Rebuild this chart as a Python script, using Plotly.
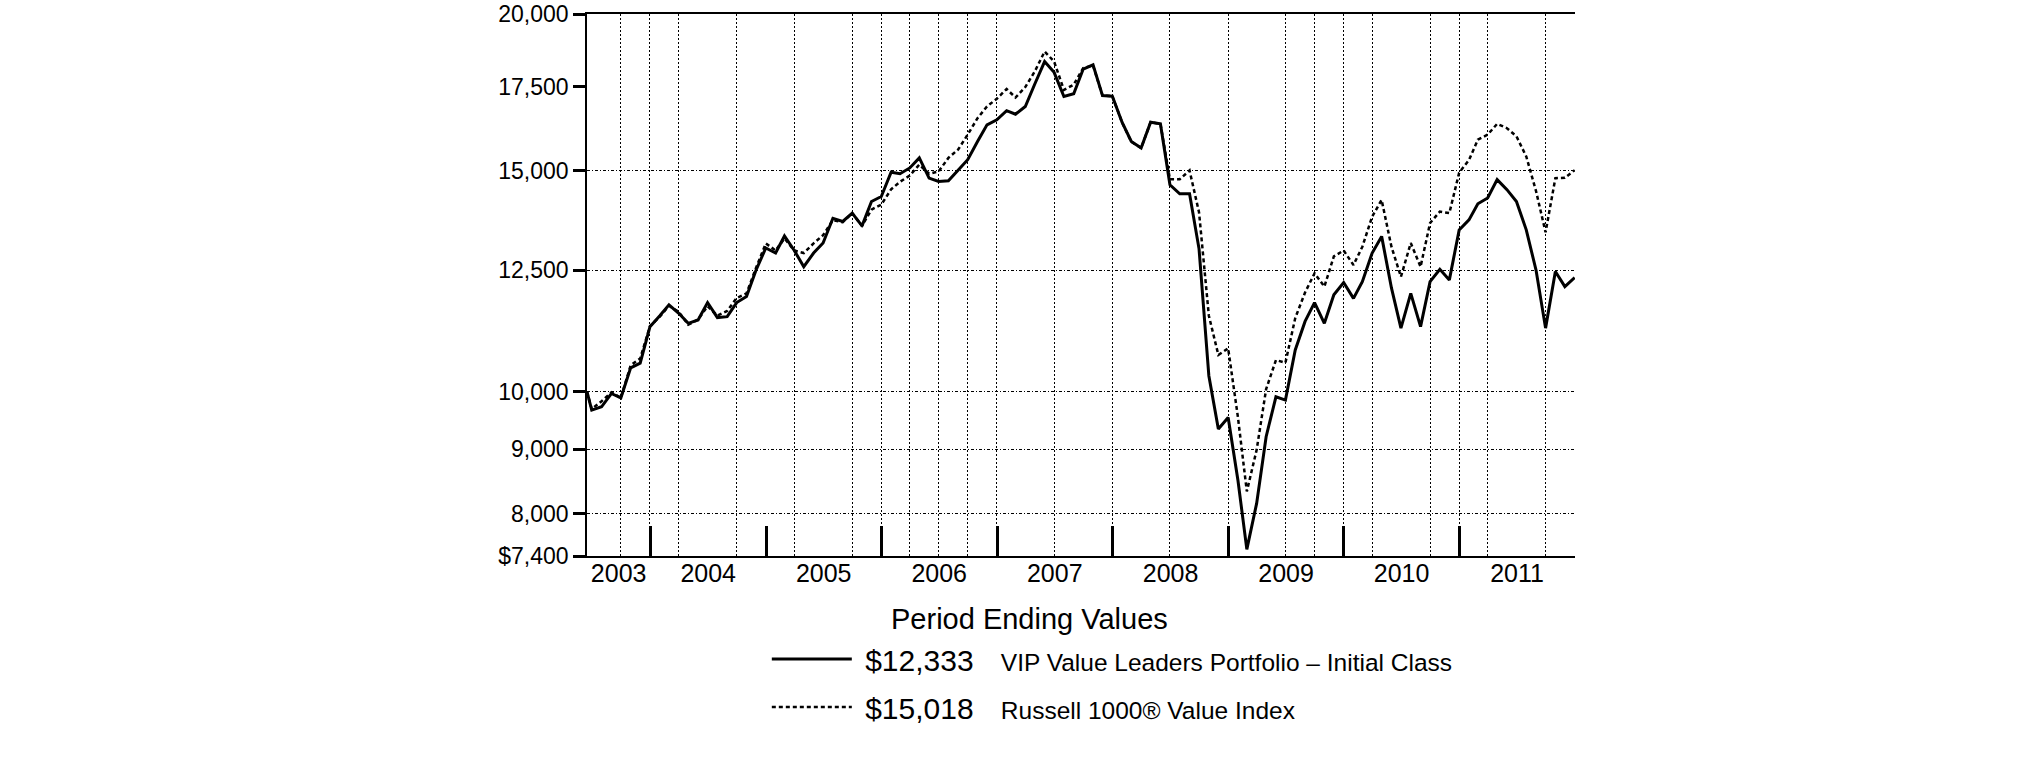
import math
import plotly.graph_objects as go
import pandas as pd

# ---------------- data ----------------
start_date = "2003-06-15"
month_ends = pd.date_range("2003-06-30", "2011-12-31", freq="ME")
dates = [start_date] + [d.strftime("%Y-%m-%d") for d in month_ends]

fund_values = [
    10000, 9670, 9730, 9970, 9890, 10450, 10540, 11270,                                # 2003
    11500, 11730, 11550, 11340, 11410, 11780, 11460, 11480, 11780, 11910, 12500, 13020,  # 2004
    12900, 13310, 12960, 12580, 12900, 13140, 13750, 13670, 13880, 13560, 14180, 14310,  # 2005
    14960, 14920, 15080, 15360, 14800, 14710, 14730, 15010, 15310, 15830, 16320, 16470,  # 2006
    16750, 16640, 16880, 17590, 18330, 17970, 17190, 17280, 18080, 18220, 17220, 17200,  # 2007
    16390, 15830, 15640, 16400, 16350, 14620, 14380, 14380, 13000, 10300, 9340, 9540,    # 2008
    8500, 7490, 8150, 9210, 9910, 9850, 10800, 11380, 11780, 11340, 11950, 12220,        # 2009
    11870, 12240, 12900, 13300, 12100, 11240, 11980, 11270, 12240, 12520, 12280, 13460,  # 2010
    13710, 14120, 14270, 14760, 14490, 14180, 13460, 12500, 11240, 12470, 12130, 12333,  # 2011
]
index_values = [
    10000, 9690, 9830, 9990, 9890, 10500, 10630, 11280,                                # 2003
    11480, 11710, 11580, 11310, 11420, 11700, 11500, 11600, 11880, 11980, 12550, 13130,  # 2004
    12960, 13250, 12960, 12900, 13130, 13330, 13700, 13650, 13880, 13560, 13970, 14100,  # 2005
    14500, 14700, 14870, 15170, 14920, 14980, 15360, 15600, 16030, 16520, 16880, 17120,  # 2006
    17430, 17160, 17490, 18000, 18670, 18330, 17400, 17570, 18110, 18200, 17220, 17200,  # 2007
    16390, 15820, 15640, 16400, 16350, 14770, 14770, 15010, 13900, 11500, 10700, 10830,  # 2008
    9540, 8330, 8990, 10050, 10600, 10550, 11450, 12000, 12430, 12130, 12820, 12960,     # 2009
    12620, 13050, 13790, 14220, 13050, 12350, 13140, 12580, 13630, 13920, 13880, 14950,  # 2010
    15300, 15880, 16030, 16350, 16220, 15980, 15400, 14450, 13400, 14800, 14810, 15018,  # 2011
]

fund_name = "VIP Value Leaders Portfolio \u2013 Initial Class"
index_name = "Russell 1000\u00ae Value Index"
fund_end_label = "$12,333"
index_end_label = "$15,018"

y_tick_vals = [7400, 8000, 9000, 10000, 12500, 15000, 17500, 20000]
y_tick_text = ["$7,400", "8,000", "9,000", "10,000", "12,500", "15,000", "17,500", "20,000"]
y_grid_vals = [8000, 9000, 10000, 12500, 15000]

year_labels = ["2003", "2004", "2005", "2006", "2007", "2008", "2009", "2010", "2011"]
year_label_pos = ["2003-09-23", "2004-07-02", "2005-07-02", "2006-07-02", "2007-07-02",
                  "2008-07-02", "2009-07-02", "2010-07-02", "2011-07-02"]
year_bounds = ["2004-01-01", "2005-01-01", "2006-01-01", "2007-01-01", "2008-01-01",
               "2009-01-01", "2010-01-01", "2011-01-01"]
x_grid_dates = ["2003-09-30", "2003-12-31", "2004-03-31", "2004-09-30", "2005-03-31",
                "2005-09-30", "2005-12-31", "2006-03-31", "2006-06-30", "2006-09-30",
                "2006-12-31", "2007-06-30", "2007-12-31", "2008-06-30", "2008-12-31",
                "2009-06-30", "2009-09-30", "2009-12-31", "2010-03-31", "2010-09-30",
                "2010-12-31", "2011-03-31", "2011-09-30"]

x_range = [start_date, "2012-01-01"]
y_range_vals = [7400, 20000]

# ---------------- figure ----------------
FONT = "Liberation Sans, Arial, Helvetica, sans-serif"
y_range = [math.log10(v) for v in y_range_vals]

gap_amount = "\u00a0"
gap_text = "\u00a0" * 4
fig = go.Figure()
fig.add_trace(go.Scatter(
    x=dates, y=fund_values, mode="lines",
    line=dict(color="black", width=3),
    name=f"{gap_amount}{fund_end_label}<span style='font-size:24.5px'>{gap_text}{fund_name}</span>",
    legendgroup="a", hoverinfo="skip"))
fig.add_trace(go.Scatter(
    x=dates, y=index_values, mode="lines",
    line=dict(color="black", width=2.5, dash="4px,3px"),
    name=f"{gap_amount}{index_end_label}<span style='font-size:24.5px'>{gap_text}{index_name}</span>",
    legendgroup="b", hoverinfo="skip"))
# helper trace carrying the overlay axes (grid + top frame line)
fig.add_trace(go.Scatter(
    x=[dates[0], dates[-1]], y=[10000, 10000], xaxis="x2", yaxis="y2",
    mode="lines", line=dict(width=1, color="white"), opacity=0,
    showlegend=False, hoverinfo="skip"))

fig.update_layout(
    width=2025, height=761,
    margin=dict(l=587, r=450, t=14, b=205),
    paper_bgcolor="white", plot_bgcolor="white",
    font=dict(family=FONT, color="black"),
    xaxis=dict(
        type="date", range=x_range, automargin=False,
        tickmode="array", tickvals=year_label_pos, ticktext=year_labels,
        ticks="", showgrid=False, zeroline=False,
        showline=True, linecolor="black", linewidth=1.5,
        tickfont=dict(size=25, family=FONT, color="black"),
        ticklabelstandoff=-6,
        minor=dict(tickmode="array", tickvals=year_bounds, ticks="inside",
                   ticklen=30, tickwidth=2.5, tickcolor="black", showgrid=False),
    ),
    yaxis=dict(
        type="log", range=y_range, automargin=False,
        tickmode="array", tickvals=y_tick_vals, ticktext=y_tick_text,
        ticks="outside", ticklen=12, tickwidth=2.5, tickcolor="black",
        showgrid=False, zeroline=False,
        showline=True, linecolor="black", linewidth=1.5,
        tickfont=dict(size=23, family=FONT, color="black"),
    ),
    xaxis2=dict(
        type="date", range=x_range, overlaying="x", anchor="y2", side="top",
        automargin=False,
        tickmode="array", tickvals=x_grid_dates, showticklabels=False, ticks="",
        showgrid=True, gridcolor="black", gridwidth=1, griddash="2px,2px",
        showline=True, linecolor="black", linewidth=1.5, zeroline=False,
    ),
    yaxis2=dict(
        type="log", range=y_range, overlaying="y", anchor="x2", side="right",
        automargin=False,
        tickmode="array", tickvals=y_grid_vals, showticklabels=False, ticks="",
        showgrid=True, gridcolor="black", gridwidth=1, griddash="3px,2px,1px,2px",
        showline=False, zeroline=False,
    ),
    showlegend=True,
    legend=dict(
        x=0.182, y=-0.142, xanchor="left", yanchor="top",
        font=dict(size=30, family=FONT, color="black"),
        itemwidth=80, tracegroupgap=6, traceorder="grouped",
        bgcolor="rgba(0,0,0,0)",
    ),
    annotations=[dict(
        text="Period Ending Values", xref="paper", yref="paper",
        x=0.4474, y=-0.1155, xanchor="center", yanchor="middle",
        showarrow=False, font=dict(size=29, family=FONT, color="black"))],
)

fig.write_html("out.html", config={"displayModeBar": False},
               post_script="document.body.style.margin='0px';")
